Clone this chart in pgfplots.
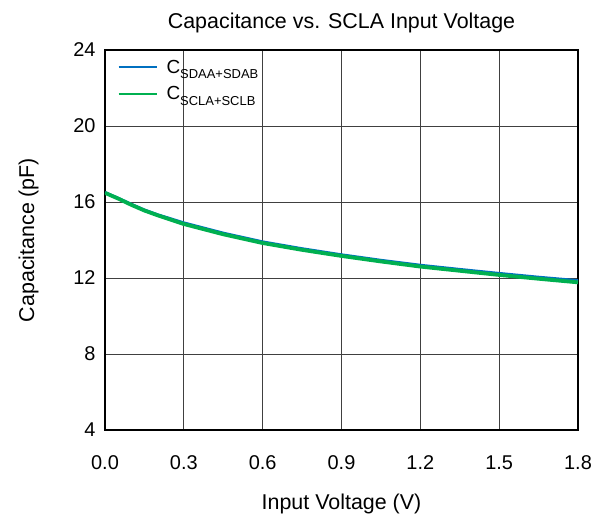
\documentclass[border=0pt]{standalone}
\usepackage{fontspec}
\setmainfont{Liberation Sans}
\usepackage{pgfplots}
\pgfplotsset{compat=1.18}
\usetikzlibrary{calc}
\definecolor{cblue}{RGB}{0,112,192}
\definecolor{cgreen}{RGB}{0,176,80}
\newcommand{\sub}[1]{\raisebox{-0.3em}{\fontsize{13}{15}\selectfont #1}}
\begin{document}
\begin{tikzpicture}
\begin{axis}[
  scale only axis,
  width=473bp, height=380bp,
  xmin=0, xmax=1.8, ymin=4, ymax=24,
  xtick={0,0.3,0.6,0.9,1.2,1.5,1.8},
  ytick={4,8,...,24},
  xticklabel style={/pgf/number format/fixed, /pgf/number format/fixed zerofill, /pgf/number format/precision=1, yshift=-22bp},
  /pgf/number format/assume math mode=true,
  ticklabel style={font=\fontsize{20}{24}\selectfont},
  label style={font=\fontsize{21.5}{25}\selectfont},
  title style={font=\fontsize{21.5}{25}\selectfont, yshift=8bp},
  title={Capacitance vs. SCLA Input Voltage},
  xlabel={Input Voltage (V)},
  ylabel={Capacitance (pF)},
  xlabel style={yshift=-18bp},
  ylabel style={yshift=28bp},
  yticklabel style={xshift=-6bp},
  major tick length=0pt,
  grid=major,
  major grid style={black!75, line width=0.9bp},
  axis line style={line width=2.2bp},
  legend style={draw=none, fill=none, at={(0.02,0.985)}, anchor=north west,
    font=\fontsize{19}{22}\selectfont, row sep=8bp},
  legend cell align=left,
  legend image code/.code={\draw[#1, line width=2bp] (0bp,0bp) -- (38bp,0bp); \path (44bp,0bp);},
]
\addplot[cblue, line width=3bp] coordinates {
(0,16.5) (0.05,16.2) (0.1,15.88) (0.15,15.58) (0.2,15.33) (0.3,14.9) (0.45,14.36) (0.6,13.9) (0.75,13.54) (0.9,13.22) (1.05,12.93) (1.2,12.67) (1.35,12.45) (1.5,12.24) (1.65,12.04) (1.8,11.86)
};
\addlegendentry{C\sub{SDAA+SDAB}}
\addplot[cgreen, line width=3.8bp] coordinates {
(0,16.48) (0.05,16.18) (0.1,15.85) (0.15,15.55) (0.2,15.3) (0.3,14.84) (0.45,14.3) (0.6,13.84) (0.75,13.48) (0.9,13.16) (1.05,12.87) (1.2,12.6) (1.35,12.38) (1.5,12.16) (1.65,11.96) (1.8,11.77)
};
\addlegendentry{C\sub{SCLA+SCLB}}
\end{axis}
\path ($(current axis.south west)+(-105bp,-86bp)$) rectangle ($(current axis.north east)+(32bp,50bp)$);
\end{tikzpicture}
\end{document}
